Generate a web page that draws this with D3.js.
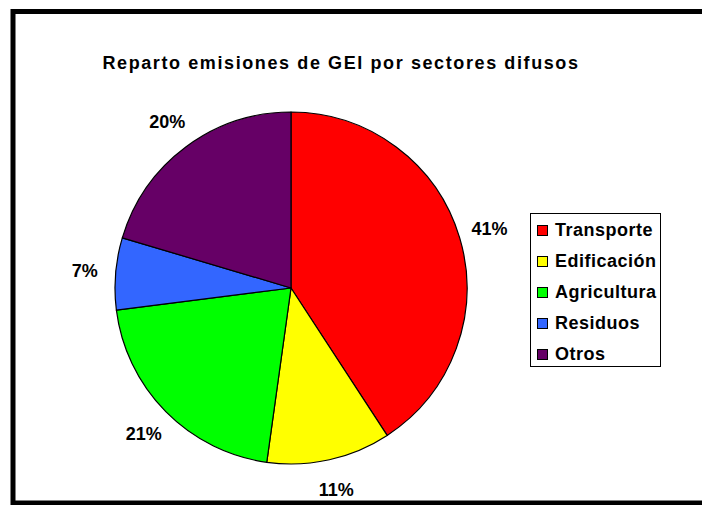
<!DOCTYPE html>
<meta charset="utf-8">
<style>
  body { margin: 0; background: #fff; }
  text { font-family: "Liberation Sans", Arial, sans-serif; font-weight: bold; fill: #000; }
</style>
<svg width="702" height="505"></svg>
<script src="https://d3js.org/d3.v7.min.js"></script>
<script>
var title = "Reparto emisiones de GEI por sectores difusos";
var sectores = ["Transporte", "Edificación", "Agricultura", "Residuos", "Otros"];
var valores = [40.8, 11.4, 20.8, 6.6, 20.4];
var colores = ["#ff0000", "#ffff00", "#00ff00", "#3366ff", "#660066"];

var svg = d3.select("svg"),
    width = +svg.attr("width"),
    height = +svg.attr("height");

// marco
svg.append("rect").attr("x", 13).attr("y", 11.5).attr("width", 720).attr("height", 491.5)
  .attr("fill", "#fff").attr("stroke", "#000").attr("stroke-width", 5);

svg.append("text").attr("x", 341).attr("y", 69).attr("text-anchor", "middle")
  .style("font-size", "18px").style("letter-spacing", "1.6px").text(title);

var cx = 291, cy = 288, r = 176;
var total = d3.sum(valores);
var color = d3.scaleOrdinal().domain(sectores).range(colores);
var pie = d3.pie().sort(null).value(function(d, i) { return valores[i]; });
var arc = d3.arc().innerRadius(0).outerRadius(r);
var labelArc = d3.arc().innerRadius(207).outerRadius(207);
var pct = function(v) { return Math.round(v / total * 100) + "%"; };

var g = svg.append("g").attr("transform", "translate(" + cx + "," + cy + ")");
var arcs = pie(sectores);
g.selectAll("path").data(arcs).enter().append("path")
  .attr("d", arc).attr("fill", function(d) { return color(d.data); })
  .attr("stroke", "#000").attr("stroke-width", 1.2).attr("stroke-linejoin", "round");

g.selectAll("text.lbl").data(arcs).enter().append("text").attr("class", "lbl")
  .attr("transform", function(d) { return "translate(" + labelArc.centroid(d) + ")"; })
  .attr("text-anchor", "middle").attr("dy", "0.35em").style("font-size", "18px")
  .text(function(d) { return pct(d.value); });

// leyenda
var lg = svg.append("g").attr("transform", "translate(530,213)");
lg.append("rect").attr("x", 0.5).attr("y", 0.5).attr("width", 130).attr("height", 153)
  .attr("fill", "#fff").attr("stroke", "#000").attr("stroke-width", 1);
var y = d3.scalePoint().domain(sectores).range([17, 141]);
var item = lg.selectAll("g.item").data(sectores).enter().append("g").attr("class", "item")
  .attr("transform", function(d) { return "translate(0," + y(d) + ")"; });
item.append("rect").attr("x", 7.5).attr("y", -4.5).attr("width", 10).attr("height", 10)
  .attr("fill", function(d) { return color(d); }).attr("stroke", "#000").attr("stroke-width", 1);
item.append("text").attr("x", 25).attr("dy", "0.36em").style("font-size", "18px")
  .style("letter-spacing", "0.5px")
  .text(function(d) { return d; });
</script>
